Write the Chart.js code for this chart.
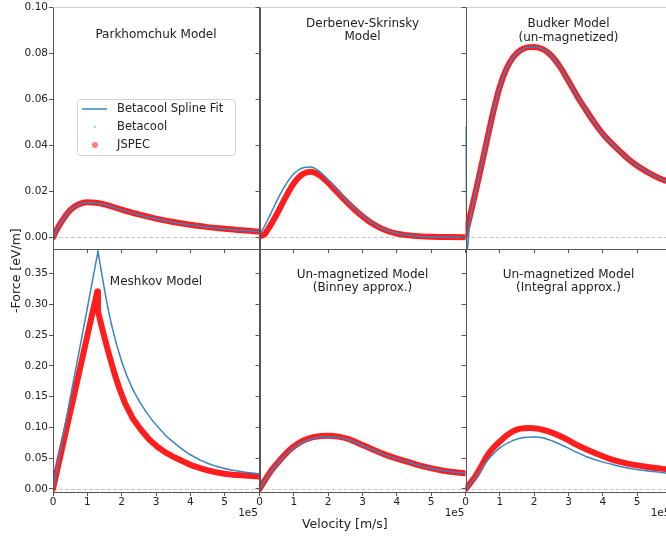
<!DOCTYPE html>
<html>
<head>
<meta charset="utf-8">
<script src="https://cdn.jsdelivr.net/npm/chart.js@4.4.1/dist/chart.umd.min.js"></script>
<style>
    html, body { margin: 0; padding: 0; background: #fff; overflow: hidden; width: 666px; height: 538px; }
    canvas { position: absolute; left: 0; top: 0; }
    .lbl { position: absolute; font-family: 'DejaVu Sans', sans-serif; font-size: 12.5px; line-height: 15px; color: #222; white-space: nowrap; }
</style>
</head>
<body>
<canvas id="p0" width="690" height="538"></canvas>
<canvas id="p1" width="690" height="538"></canvas>
<canvas id="p2" width="690" height="538"></canvas>
<canvas id="p3" width="690" height="538"></canvas>
<canvas id="p4" width="690" height="538"></canvas>
<canvas id="p5" width="690" height="538"></canvas>
<div class="lbl" style="left:302px; top:516px;">Velocity [m/s]</div>
<div class="lbl" style="left:8px; top:313px; transform: rotate(-90deg); transform-origin: 0 0;">-Force [eV/m]</div>
<script>
// Velocidades en unidades de 1e5 m/s, fuerzas en eV/m

// Parkhomchuk
const parkX     = [0, 0.1, 0.25, 0.5, 0.75, 1.0, 1.25, 1.5, 2.0, 2.5, 3.0, 3.5, 4.0, 4.5, 5.0, 5.5, 6.0];
const parkFit   = [0, 0.0030, 0.0068, 0.0118, 0.0143, 0.0152, 0.0150, 0.0143, 0.0120, 0.0099, 0.0081, 0.0066, 0.0054, 0.0045, 0.0037, 0.0031, 0.0026];
const parkJspec = [0, 0.0031, 0.0069, 0.0119, 0.0144, 0.0153, 0.0151, 0.0144, 0.0121, 0.0100, 0.0082, 0.0067, 0.0055, 0.0045, 0.0038, 0.0031, 0.0026];

// Derbenev-Skrinsky
const dsX     = [0, 0.15, 0.3, 0.5, 0.75, 1.0, 1.25, 1.5, 1.75, 2.0, 2.25, 2.5, 2.75, 3.0, 3.25, 3.5, 3.75, 4.0, 4.5, 5.0, 5.5, 6.0];
const dsFit   = [0.0010, 0.0050, 0.0095, 0.0158, 0.0226, 0.0277, 0.0302, 0.0306, 0.0286, 0.0250, 0.0207, 0.0166, 0.0128, 0.0095, 0.0067, 0.0045, 0.0029, 0.0018, 0.0007, 0.0003, 0.0002, 0.0001];
const dsJspec = [0.0005, 0.0015, 0.0048, 0.0100, 0.0172, 0.0236, 0.0275, 0.0286, 0.0270, 0.0238, 0.0199, 0.0160, 0.0124, 0.0092, 0.0064, 0.0043, 0.0027, 0.0017, 0.0007, 0.0003, 0.0002, 0.0001];

// Budker
const budFitX   = [0, 0.04, 0.12, 0.33, 0.6, 0.8, 1.0, 1.2, 1.4, 1.6, 1.8, 2.0, 2.25, 2.5, 2.75, 3.0, 3.25, 3.5, 3.75, 4.0, 4.25, 4.5, 4.75, 5.0, 5.5, 6.0];
const budFit    = [0.048, -0.007, 0.006, 0.0221, 0.0405, 0.0540, 0.0655, 0.0735, 0.0785, 0.0813, 0.0826, 0.0828, 0.0818, 0.0790, 0.0742, 0.0680, 0.0615, 0.0556, 0.0500, 0.0450, 0.0410, 0.0374, 0.0340, 0.0312, 0.0268, 0.0236];
const budJsX    = [0, 0.08, 0.33, 0.6, 0.8, 1.0, 1.2, 1.4, 1.6, 1.8, 2.0, 2.25, 2.5, 2.75, 3.0, 3.25, 3.5, 3.75, 4.0, 4.25, 4.5, 4.75, 5.0, 5.5, 6.0];
const budJspec  = [0.0012, 0.0062, 0.0221, 0.0405, 0.0540, 0.0655, 0.0735, 0.0785, 0.0813, 0.0826, 0.0828, 0.0818, 0.0790, 0.0742, 0.0680, 0.0615, 0.0556, 0.0500, 0.0450, 0.0410, 0.0374, 0.0340, 0.0312, 0.0268, 0.0236];

// Meshkov
const meshFitX  = [0, 0.5, 1.0, 1.31, 1.4, 1.5, 1.6, 1.7, 1.84, 2.0, 2.15, 2.33, 2.5, 2.7, 2.9, 3.1, 3.3, 3.55, 3.78, 4.0, 4.26, 4.5, 4.75, 5.0, 5.23, 5.6, 6.0];
const meshFit   = [0, 0.147, 0.294, 0.386, 0.356, 0.324, 0.294, 0.268, 0.237, 0.207, 0.184, 0.161, 0.144, 0.126, 0.111, 0.098, 0.0855, 0.074, 0.0639, 0.0555, 0.0476, 0.0418, 0.0367, 0.0333, 0.0302, 0.0270, 0.0245];
const meshJsX   = [0, 0.3, 0.6, 0.9, 1.1, 1.29, 1.31, 1.4, 1.5, 1.6, 1.7, 1.8, 1.94, 2.1, 2.33, 2.55, 2.81, 3.05, 3.3, 3.55, 3.78, 4.0, 4.26, 4.5, 4.75, 5.0, 5.23, 5.6, 6.0];
const meshJspec = [0, 0.075, 0.149, 0.224, 0.274, 0.321, 0.289, 0.268, 0.246, 0.225, 0.205, 0.186, 0.162, 0.139, 0.114, 0.097, 0.080, 0.068, 0.0585, 0.051, 0.0449, 0.0392, 0.0341, 0.0303, 0.0270, 0.0248, 0.0232, 0.0217, 0.0203];

// Binney
const binX     = [0, 0.36, 0.6, 0.85, 1.1, 1.33, 1.6, 1.8, 2.01, 2.3, 2.6, 2.9, 3.28, 3.6, 3.96, 4.35, 4.74, 5.32, 6.0];
const binFit   = [0, 0.030, 0.046, 0.060, 0.071, 0.078, 0.0828, 0.0845, 0.0850, 0.0838, 0.0800, 0.0730, 0.0640, 0.0565, 0.0497, 0.0433, 0.0368, 0.0298, 0.0253];
const binJspec = [0, 0.031, 0.047, 0.062, 0.073, 0.080, 0.0845, 0.0862, 0.0866, 0.0850, 0.0810, 0.0740, 0.0645, 0.0570, 0.0500, 0.0435, 0.0370, 0.0300, 0.0255];

// Integral
const intFitX  = [0, 0.28, 0.62, 1.0, 1.39, 1.7, 2.0, 2.3, 2.55, 2.9, 3.23, 3.55, 3.91, 4.3, 4.69, 5.27, 6.0];
const intFit   = [0, 0.018, 0.0449, 0.0666, 0.079, 0.0835, 0.0845, 0.0825, 0.0774, 0.0688, 0.0598, 0.0520, 0.0452, 0.0395, 0.0345, 0.0295, 0.0250];
const intJsX   = [0, 0.28, 0.45, 0.62, 0.8, 1.0, 1.2, 1.39, 1.6, 1.87, 2.1, 2.26, 2.5, 2.75, 3.0, 3.23, 3.5, 3.72, 4.2, 4.69, 5.27, 6.0];
const intJspec = [0, 0.020, 0.036, 0.053, 0.066, 0.077, 0.087, 0.094, 0.098, 0.099, 0.098, 0.096, 0.092, 0.086, 0.079, 0.072, 0.065, 0.0595, 0.0490, 0.0415, 0.0360, 0.0310];

const BLUE = '#3a84c0';
const FONT = "'DejaVu Sans', sans-serif";
const COLS = [53, 259.5, 465.5];
const PANEL_W = 206;
const CW = 690, CH = 538;

const paneles = [
    { titulos: ['Parkhomchuk Model'], ty: [35], fx: parkX, fy: parkFit, jx: parkX, jy: parkJspec, leyenda: true },
    { titulos: ['Derbenev-Skrinsky', 'Model'], ty: [24, 37], fx: dsX, fy: dsFit, jx: dsX, jy: dsJspec },
    { titulos: ['Budker Model', '(un-magnetized)'], ty: [24, 38], fx: budFitX, fy: budFit, jx: budJsX, jy: budJspec },
    { titulos: ['Meshkov Model'], ty: [282], fx: meshFitX, fy: meshFit, jx: meshJsX, jy: meshJspec, recto: true },
    { titulos: ['Un-magnetized Model', '(Binney approx.)'], ty: [275, 288], fx: binX, fy: binFit, jx: binX, jy: binJspec },
    { titulos: ['Un-magnetized Model', '(Integral approx.)'], ty: [275, 288], fx: intFitX, fy: intFit, jx: intJsX, jy: intJspec }
];

const puntos = (xs, ys) => xs.map((x, i) => ({ x: x, y: ys[i] }));

const decor = {
    id: 'decor',
    beforeDatasetsDraw(chart) {
        const { ctx, chartArea: a, scales } = chart;
        const y0 = Math.round(scales.y.getPixelForValue(0)) + 0.5;
        ctx.save();
        ctx.strokeStyle = '#c4c4c4';
        ctx.lineWidth = 1;
        ctx.setLineDash([4, 2]);
        ctx.beginPath();
        ctx.moveTo(a.left, y0);
        ctx.lineTo(a.right, y0);
        ctx.stroke();
        ctx.restore();
    },
    afterDraw(chart, args, o) {
        const { ctx, chartArea: a } = chart;
        ctx.save();
        // bordes
        const l = Math.round(a.left) + 0.5, r = Math.round(a.right) + 0.5;
        const t = Math.round(a.top) + 0.5, b = Math.round(a.bottom) + 0.5;
        ctx.lineWidth = 1;
        ctx.strokeStyle = o.abajo ? '#555' : '#cfcfcf';
        ctx.beginPath(); ctx.moveTo(l, t); ctx.lineTo(r, t); ctx.stroke();
        ctx.strokeStyle = '#555';
        ctx.beginPath(); ctx.moveTo(l, t); ctx.lineTo(l, b); ctx.lineTo(r, b); ctx.lineTo(r, t); ctx.stroke();

        // titulos dentro del panel
        ctx.fillStyle = '#222';
        ctx.font = '12px ' + FONT;
        ctx.textAlign = 'center';
        ctx.textBaseline = 'middle';
        const cx = (a.left + a.right) / 2;
        o.titulos.forEach((txt, i) => ctx.fillText(txt, cx, o.ty[i]));

        if (o.abajo) {
            ctx.font = '10.5px ' + FONT;
            ctx.textAlign = 'right';
            ctx.fillText('1e5', a.right - 1, 513);
        }

        if (o.leyenda) {
            ctx.beginPath();
            ctx.roundRect(77.5, 99.5, 158, 56, 3);
            ctx.fillStyle = 'rgba(255,255,255,0.85)';
            ctx.fill();
            ctx.strokeStyle = '#d4d4d4';
            ctx.stroke();
            ctx.strokeStyle = BLUE;
            ctx.lineWidth = 1.5;
            ctx.beginPath(); ctx.moveTo(82, 109); ctx.lineTo(107, 109); ctx.stroke();
            ctx.fillStyle = 'rgba(31,119,180,0.35)';
            ctx.beginPath(); ctx.arc(95, 127, 1.2, 0, Math.PI * 2); ctx.fill();
            ctx.fillStyle = 'rgba(255,0,0,0.5)';
            ctx.beginPath(); ctx.arc(95, 145, 3, 0, Math.PI * 2); ctx.fill();
            ctx.fillStyle = '#222';
            ctx.font = '11.5px ' + FONT;
            ctx.textAlign = 'left';
            ctx.fillText('Betacool Spline Fit', 117, 109);
            ctx.fillText('Betacool', 117, 127);
            ctx.fillText('JSPEC', 117, 145);
        }
        ctx.restore();
    }
};

paneles.forEach((p, i) => {
    const col = i % 3;
    const abajo = i >= 3;
    const left = COLS[col];
    const right = left + PANEL_W;
    const top = abajo ? 249 : 7;
    const bottom = abajo ? 492 : 249;
    const yW = 45;
    const xH = abajo ? 20 : 4;
    const interp = p.recto ? {} : { cubicInterpolationMode: 'monotone' };

    new Chart(document.getElementById('p' + i).getContext('2d'), {
        type: 'scatter',
        data: {
            datasets: [
                Object.assign({
                    label: 'Betacool Spline Fit',
                    data: puntos(p.fx, p.fy),
                    showLine: true,
                    borderColor: BLUE,
                    borderWidth: 1.5,
                    pointRadius: 0,
                    tension: 0
                }, interp),
                {
                    label: 'Betacool',
                    data: puntos(p.fx, p.fy),
                    showLine: false,
                    pointRadius: 1,
                    pointBorderWidth: 0,
                    backgroundColor: 'rgba(31,119,180,0.35)'
                },
                Object.assign({
                    label: 'JSPEC',
                    data: puntos(p.jx, p.jy),
                    showLine: true,
                    borderColor: 'rgba(255,10,10,0.92)',
                    borderWidth: 6,
                    borderJoinStyle: 'round',
                    borderCapStyle: 'round',
                    pointRadius: 0,
                    tension: 0
                }, interp)
            ]
        },
        options: {
            responsive: false,
            animation: false,
            devicePixelRatio: 1,
            events: [],
            layout: {
                padding: { left: left - yW, right: CW - right, top: top, bottom: CH - bottom - xH }
            },
            plugins: {
                legend: { display: false },
                tooltip: { enabled: false },
                decor: { titulos: p.titulos, ty: p.ty, abajo: abajo, leyenda: !!p.leyenda }
            },
            scales: {
                x: {
                    type: 'linear',
                    min: 0,
                    max: 6,
                    ticks: {
                        stepSize: 1,
                        padding: 0,
                        color: '#222',
                        font: { family: FONT, size: 10.5 },
                        maxRotation: 0,
                        callback: v => (abajo && v < 6) ? String(v) : ''
                    },
                    grid: { drawOnChartArea: false, tickLength: 4, color: '#555' },
                    border: { display: false },
                    afterFit: s => { s.height = xH; }
                },
                y: {
                    min: -0.005,
                    max: abajo ? 0.39 : 0.10,
                    ticks: {
                        stepSize: abajo ? 0.05 : 0.02,
                        includeBounds: false,
                        padding: 1,
                        color: '#222',
                        font: { family: FONT, size: 10.5 },
                        callback: v => col === 0 ? v.toFixed(2) : ''
                    },
                    grid: { drawOnChartArea: false, tickLength: 4, color: '#555' },
                    border: { display: false },
                    afterFit: s => { s.width = yW; }
                }
            }
        },
        plugins: [decor]
    });
});
</script>
</body>
</html>
